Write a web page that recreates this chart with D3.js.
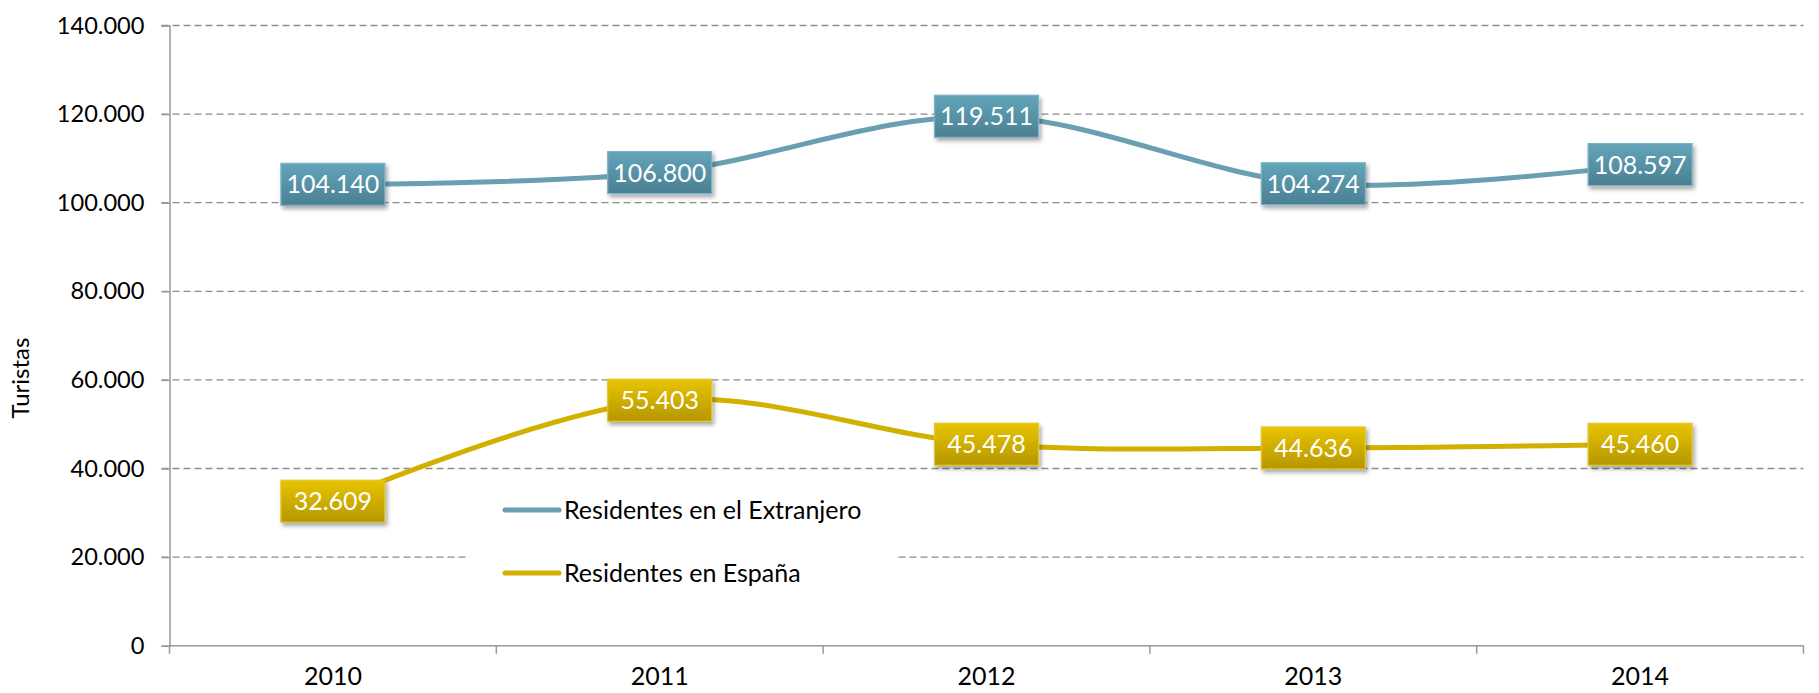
<!DOCTYPE html>
<html>
<head>
<meta charset="utf-8">
<script src="https://cdn.jsdelivr.net/npm/d3@7"></script>
<style>
  body { margin: 0; background: #fff; }
  text { font-family: Lato, "Noto Sans", sans-serif; }
</style>
</head>
<body>
<div id="chart"></div>
<script>
/* DATA */
var years = ["2010", "2011", "2012", "2013", "2014"];
var extranjero = [104140, 106800, 119511, 104274, 108597];
var espana = [32609, 55403, 45478, 44636, 45460];
var yTicks = [0, 20000, 40000, 60000, 80000, 100000, 120000, 140000];
var seriesNames = ["Residentes en el Extranjero", "Residentes en España"];

/* LAYOUT */
var margin = {top: 25.5, right: 15.5, bottom: 47.3, left: 169.5};
var W = 1819, H = 693;
var width = W - margin.left - margin.right,
    height = H - margin.top - margin.bottom;

var fmt = function(v) { return d3.format(",")(v).replace(/,/g, "."); };

var xScale = d3.scaleBand().domain(years).range([0, width]);
var yScale = d3.scaleLinear().domain([0, 140000]).range([height, 0]);

var svg = d3.select("#chart").append("svg")
  .attr("width", W).attr("height", H);

var defs = svg.append("defs");
var shadow = defs.append("filter").attr("id", "shadow")
  .attr("x", "-20%").attr("y", "-20%").attr("width", "150%").attr("height", "160%");
shadow.append("feDropShadow").attr("dx", 2).attr("dy", 3).attr("stdDeviation", 2)
  .attr("flood-color", "#000").attr("flood-opacity", 0.35);

function grad(id, top, bottom) {
  var g = defs.append("linearGradient").attr("id", id)
    .attr("x1", 0).attr("y1", 0).attr("x2", 0).attr("y2", 1);
  g.append("stop").attr("offset", "0%").attr("stop-color", top);
  g.append("stop").attr("offset", "100%").attr("stop-color", bottom);
}
grad("gBlue", "#62a5ba", "#4b7f92");
grad("gYellow", "#e8c400", "#b59700");

var g = svg.append("g")
  .attr("transform", "translate(" + margin.left + "," + margin.top + ")");

// gridlines
g.selectAll(".grid").data(yTicks.filter(function(d) { return d > 0; }))
  .enter().append("line")
  .attr("x1", -8).attr("x2", width)
  .attr("y1", function(d) { return yScale(d); })
  .attr("y2", function(d) { return yScale(d); })
  .attr("stroke", "#8c8c8c").attr("stroke-width", 1.3)
  .attr("stroke-dasharray", "7,4");

// y axis
var yAxis = g.append("g")
  .call(d3.axisLeft(yScale).tickValues(yTicks).tickSize(8).tickPadding(17).tickFormat(fmt));
yAxis.select(".domain").attr("stroke", "#999").attr("stroke-width", 1.5);
yAxis.selectAll(".tick line").attr("stroke", "#999").attr("stroke-width", 1.5);
yAxis.selectAll("text").attr("font-size", "23.6px").attr("fill", "#000")
  .style("font-family", "Lato, 'Noto Sans', sans-serif");

// x axis with ticks at band edges
var xAxisG = g.append("g").attr("transform", "translate(0," + height + ")");
xAxisG.append("line").attr("x1", 0).attr("x2", width)
  .attr("stroke", "#999").attr("stroke-width", 1.5);
var edges = years.map(function(d) { return xScale(d); }).concat([width]);
xAxisG.selectAll(".xt").data(edges).enter().append("line")
  .attr("x1", function(d) { return d; }).attr("x2", function(d) { return d; })
  .attr("y1", 0).attr("y2", 8)
  .attr("stroke", "#999").attr("stroke-width", 1.5);
xAxisG.selectAll(".xl").data(years).enter().append("text")
  .attr("x", function(d) { return xScale(d) + xScale.bandwidth() / 2; })
  .attr("y", 39)
  .attr("text-anchor", "middle").attr("font-size", "25px").attr("fill", "#000")
  .text(function(d) { return d; });

// y axis label
svg.append("text")
  .attr("transform", "translate(29,378) rotate(-90)")
  .attr("text-anchor", "middle").attr("font-size", "24px").attr("fill", "#000")
  .text("Turistas");

// legend background (hides gridline)
g.append("rect")
  .attr("x", 467 - margin.left).attr("y", 480 - margin.top)
  .attr("width", 430).attr("height", 122).attr("fill", "#fff");

var line = d3.line()
  .x(function(d, i) { return xScale(years[i]) + xScale.bandwidth() / 2; })
  .y(function(d) { return yScale(d); })
  .curve(d3.curveCatmullRom.alpha(0));

var series = [
  {name: seriesNames[0], values: extranjero, color: "#6a9fb1", fill: "url(#gBlue)", border: "#7fb2c4"},
  {name: seriesNames[1], values: espana, color: "#d1b000", fill: "url(#gYellow)", border: "#e2c730"}
];

series.forEach(function(s) {
  g.append("path").datum(s.values)
    .attr("d", line).attr("fill", "none")
    .attr("stroke", s.color).attr("stroke-width", 5);
});

// data labels
series.forEach(function(s) {
  var lab = g.selectAll(null).data(s.values).enter().append("g")
    .attr("transform", function(d, i) {
      return "translate(" + (xScale(years[i]) + xScale.bandwidth() / 2) + "," + yScale(d) + ")";
    });
  lab.append("rect")
    .attr("x", -52).attr("y", -21).attr("width", 104).attr("height", 42)
    .attr("fill", s.fill).attr("stroke", s.border).attr("stroke-width", 1.2)
    .attr("filter", "url(#shadow)");
  lab.append("text")
    .attr("text-anchor", "middle").attr("y", 9)
    .attr("font-size", "25px").attr("fill", "#fff")
    .text(function(d) { return fmt(d); });
});

// legend
var legY = [510, 573];
series.forEach(function(s, i) {
  svg.append("line")
    .attr("x1", 505).attr("x2", 559)
    .attr("y1", legY[i]).attr("y2", legY[i])
    .attr("stroke", s.color).attr("stroke-width", 5).attr("stroke-linecap", "round");
  svg.append("text")
    .attr("x", 564).attr("y", legY[i] + 9)
    .attr("font-size", "25px").attr("fill", "#000")
    .text(s.name);
});
</script>
</body>
</html>
